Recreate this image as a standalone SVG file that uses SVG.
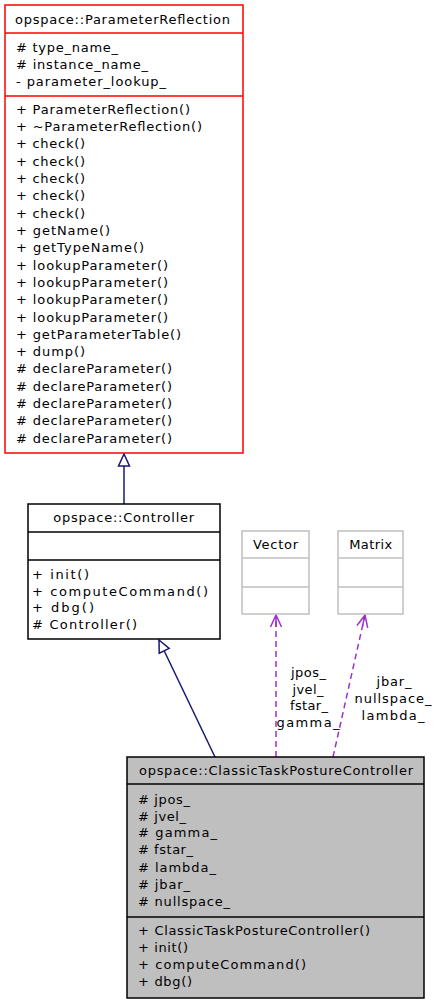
<svg xmlns="http://www.w3.org/2000/svg" width="435" height="1002" viewBox="0 0 435 1002">
<style>
text{font-family:"DejaVu Sans",sans-serif;font-size:13px;fill:#000}
.c{text-anchor:middle}
.box{fill:#fff;stroke:#000;stroke-width:1.5}
.red{stroke:#ff0000}
.grey{stroke:#bfbfbf}
.sel{fill:#bfbfbf}
.inh{fill:none;stroke:#191970;stroke-width:1.5}
.use{fill:none;stroke:#9a32cd;stroke-width:1.5;stroke-dasharray:6,4}
</style>
<defs>
<marker id="tri" viewBox="0 0 14 14" refX="13" refY="7" markerWidth="14" markerHeight="14" markerUnits="userSpaceOnUse" orient="auto">
<path d="M13,7 L1,1.5 L1,12.5 Z" fill="#fff" stroke="#191970" stroke-width="1.5"/>
</marker>
<marker id="open" viewBox="0 0 14 14" refX="13" refY="7" markerWidth="14" markerHeight="14" markerUnits="userSpaceOnUse" orient="auto">
<path d="M1,1.5 L13,7 L1,12.5 M1,7 L13,7" fill="none" stroke="#9a32cd" stroke-width="1.5"/>
</marker>
</defs>
<g id="connectors">
<path class="inh" d="M124,504 L124,454" marker-end="url(#tri)"/>
<path class="inh" d="M215,757 L159,640" marker-end="url(#tri)"/>
<path class="use" d="M276,757 L276,615" marker-end="url(#open)"/>
<path class="use" d="M333,757 L365,615" marker-end="url(#open)"/>
<text class="c" x="308.5" y="677" textLength="35" lengthAdjust="spacing">jpos_</text>
<text class="c" x="308" y="694" textLength="31" lengthAdjust="spacing">jvel_</text>
<text class="c" x="309" y="710" textLength="38" lengthAdjust="spacing">fstar_</text>
<text class="c" x="308" y="727" textLength="63" lengthAdjust="spacing">gamma_</text>
<text class="c" x="394" y="686" textLength="35" lengthAdjust="spacing">jbar_</text>
<text class="c" x="393" y="703" textLength="77" lengthAdjust="spacing">nullspace_</text>
<text class="c" x="393" y="720" textLength="63" lengthAdjust="spacing">lambda_</text>
</g>
<g id="ParameterReflection">
<rect class="box red" x="5" y="5" width="238" height="448"/>
<line class="box red" x1="5" y1="33" x2="243" y2="33"/>
<line class="box red" x1="5" y1="96" x2="243" y2="96"/>
<text class="c" x="122.5" y="24" textLength="215" lengthAdjust="spacing">opspace::ParameterReflection</text>
<text x="16" y="52" textLength="102" lengthAdjust="spacing"># type_name_</text>
<text x="16" y="69" textLength="132" lengthAdjust="spacing"># instance_name_</text>
<text x="16" y="86" textLength="150" lengthAdjust="spacing">- parameter_lookup_</text>
<text x="16" y="114" textLength="174" lengthAdjust="spacing">+ ParameterReflection()</text>
<text x="16" y="131" textLength="186" lengthAdjust="spacing">+ ~ParameterReflection()</text>
<text x="16" y="148" textLength="69" lengthAdjust="spacing">+ check()</text>
<text x="16" y="166" textLength="69" lengthAdjust="spacing">+ check()</text>
<text x="16" y="183" textLength="69" lengthAdjust="spacing">+ check()</text>
<text x="16" y="200" textLength="69" lengthAdjust="spacing">+ check()</text>
<text x="16" y="218" textLength="69" lengthAdjust="spacing">+ check()</text>
<text x="16" y="235" textLength="94" lengthAdjust="spacing">+ getName()</text>
<text x="16" y="252" textLength="128" lengthAdjust="spacing">+ getTypeName()</text>
<text x="16" y="270" textLength="152" lengthAdjust="spacing">+ lookupParameter()</text>
<text x="16" y="287" textLength="152" lengthAdjust="spacing">+ lookupParameter()</text>
<text x="16" y="304" textLength="152" lengthAdjust="spacing">+ lookupParameter()</text>
<text x="16" y="322" textLength="152" lengthAdjust="spacing">+ lookupParameter()</text>
<text x="16" y="339" textLength="165" lengthAdjust="spacing">+ getParameterTable()</text>
<text x="16" y="356" textLength="69" lengthAdjust="spacing">+ dump()</text>
<text x="16" y="373" textLength="156" lengthAdjust="spacing"># declareParameter()</text>
<text x="16" y="391" textLength="156" lengthAdjust="spacing"># declareParameter()</text>
<text x="16" y="408" textLength="156" lengthAdjust="spacing"># declareParameter()</text>
<text x="16" y="425" textLength="156" lengthAdjust="spacing"># declareParameter()</text>
<text x="16" y="443" textLength="156" lengthAdjust="spacing"># declareParameter()</text>
</g>
<g id="Controller">
<rect class="box" x="28" y="504" width="192" height="135"/>
<line class="box" x1="28" y1="532" x2="220" y2="532"/>
<line class="box" x1="28" y1="560" x2="220" y2="560"/>
<text class="c" x="123.7" y="522" textLength="141" lengthAdjust="spacing">opspace::Controller</text>
<text x="32" y="579" textLength="57" lengthAdjust="spacing">+ init()</text>
<text x="32" y="596" textLength="176" lengthAdjust="spacing">+ computeCommand()</text>
<text x="32" y="612" textLength="62" lengthAdjust="spacing">+ dbg()</text>
<text x="32" y="629" textLength="105" lengthAdjust="spacing"># Controller()</text>
</g>
<g id="Vector">
<rect class="box grey" x="242" y="531" width="67" height="83"/>
<line class="box grey" x1="242" y1="558" x2="309" y2="558"/>
<line class="box grey" x1="242" y1="587" x2="309" y2="587"/>
<text class="c" x="275.5" y="549" textLength="45" lengthAdjust="spacing">Vector</text>
</g>
<g id="Matrix">
<rect class="box grey" x="338" y="531" width="65" height="83"/>
<line class="box grey" x1="338" y1="558" x2="403" y2="558"/>
<line class="box grey" x1="338" y1="587" x2="403" y2="587"/>
<text class="c" x="370.7" y="549" textLength="43" lengthAdjust="spacing">Matrix</text>
</g>
<g id="ClassicTaskPostureController">
<rect class="box sel" x="127" y="757" width="297" height="241"/>
<line class="box" x1="127" y1="784" x2="424" y2="784"/>
<line class="box" x1="127" y1="917" x2="424" y2="917"/>
<text class="c" x="276" y="775" textLength="274" lengthAdjust="spacing">opspace::ClassicTaskPostureController</text>
<text x="138" y="804" textLength="52" lengthAdjust="spacing"># jpos_</text>
<text x="138" y="821" textLength="48" lengthAdjust="spacing"># jvel_</text>
<text x="138" y="837" textLength="79" lengthAdjust="spacing"># gamma_</text>
<text x="138" y="854" textLength="55" lengthAdjust="spacing"># fstar_</text>
<text x="138" y="872" textLength="78" lengthAdjust="spacing"># lambda_</text>
<text x="138" y="889" textLength="52" lengthAdjust="spacing"># jbar_</text>
<text x="138" y="906" textLength="92" lengthAdjust="spacing"># nullspace_</text>
<text x="138" y="935" textLength="232" lengthAdjust="spacing">+ ClassicTaskPostureController()</text>
<text x="138" y="952" textLength="50" lengthAdjust="spacing">+ init()</text>
<text x="138" y="969" textLength="168" lengthAdjust="spacing">+ computeCommand()</text>
<text x="138" y="986" textLength="54" lengthAdjust="spacing">+ dbg()</text>
</g>
</svg>
